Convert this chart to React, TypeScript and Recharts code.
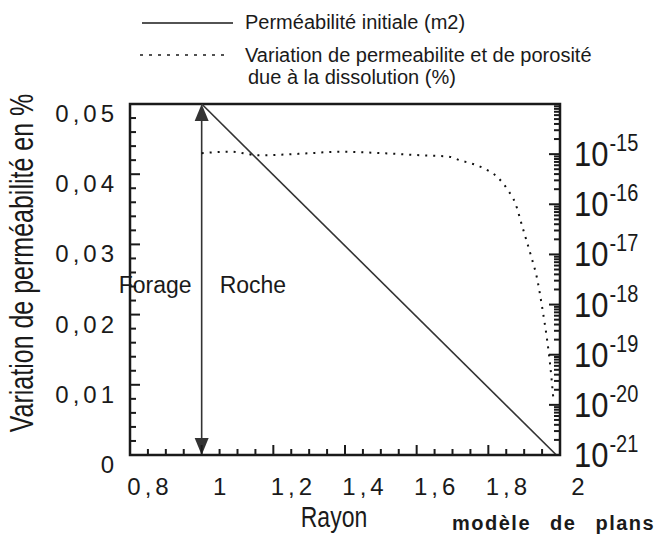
import React from 'react';
import { LineChart, Line, XAxis, YAxis, ReferenceLine } from 'recharts';

// dotted curve: variation de perméabilité et porosité (%)  -> left axis
const rayonVariation = [1.0, 1.08, 1.16, 1.27, 1.39, 1.5, 1.61, 1.69, 1.72, 1.785, 1.825, 1.855, 1.875, 1.895, 1.92, 1.935, 1.95, 1.964, 1.972, 1.981];
const variationPct = [0.043, 0.0432, 0.0427, 0.0429, 0.0432, 0.043, 0.0427, 0.0425, 0.042, 0.0409, 0.0396, 0.0377, 0.0359, 0.0325, 0.0282, 0.0254, 0.0211, 0.0164, 0.0131, 0.0083];

// solid line: perméabilité initiale (m2) -> right log axis
const rayonInitiale = [1.0, 1.99];
const permInitiale = [1e-14, 1e-21];

// axes
const xMajor = [0.8, 1, 1.2, 1.4, 1.6, 1.8, 2];
const xLabels = ['0,8', '1', '1,2', '1,4', '1,6', '1,8', '2'];
const yMajor = [0, 0.01, 0.02, 0.03, 0.04, 0.05];
const yLabels = ['0', '0,01', '0,02', '0,03', '0,04', '0,05'];
const logExponents = [-21, -20, -19, -18, -17, -16, -15];

const variationData = rayonVariation.map((r, i) => ({ r, v: variationPct[i] }));
const initialeData = rayonInitiale.map((r, i) => ({ r, k: permInitiale[i] }));

// minor ticks
const xTicks: number[] = [];
for (let i = 0; i <= 24; i++) xTicks.push(Math.round((0.8 + i * 0.05) * 1000) / 1000);
const yTicks: number[] = [];
for (let i = 0; i <= 25; i++) yTicks.push(Math.round(i * 0.002 * 10000) / 10000);
const logTicks: number[] = [];
logExponents.forEach((e) => {
  for (let k = 1; k <= 9; k++) logTicks.push(k * Math.pow(10, e));
});
logTicks.push(1e-14);

const W = 666;
const H = 537;
const margin = { top: 100, right: 6, bottom: 22, left: 30 };
const axisW = 100;
const bottomH = 60;
const topH = 4;
const plot = {
  x: margin.left + axisW,
  y: margin.top + topH,
  w: W - margin.left - margin.right - 2 * axisW,
  h: H - margin.top - margin.bottom - topH - bottomH,
};

const font = "'Liberation Sans', Arial, Helvetica, sans-serif";
const ink = '#1a1a1a';

const near = (a: number, b: number) => Math.abs(a - b) < 1e-6;

const BottomTick = (props: any) => {
  const { x, payload } = props;
  const y = plot.y + plot.h;
  const idx = xMajor.findIndex((m) => near(m, payload.value));
  const len = idx >= 0 ? 10 : 6;
  return (
    <g>
      <path d={`M${x},${y}V${y - len}`} stroke={ink} strokeWidth={2} />
      {idx >= 0 && (
        <text x={x + 20} y={y + 40} textAnchor="middle" fontFamily={font} fontSize={24} letterSpacing={4} fill={ink}>
          {xLabels[idx]}
        </text>
      )}
    </g>
  );
};

const TopTick = (props: any) => {
  const { x, payload } = props;
  const y = plot.y;
  const major = xMajor.some((m) => near(m, payload.value));
  return <path d={`M${x},${y}V${y + (major ? 10 : 6)}`} stroke={ink} strokeWidth={2} />;
};

const LeftTick = (props: any) => {
  const { y, payload } = props;
  const x = plot.x;
  const idx = yMajor.findIndex((m) => near(m, payload.value));
  const len = idx >= 0 ? 10 : 6;
  return (
    <g>
      <path d={`M${x},${y}H${x + len}`} stroke={ink} strokeWidth={2} />
      {idx >= 0 && (
        <text x={x - 12} y={y + 18} textAnchor="end" fontFamily={font} fontSize={24} letterSpacing={4} fill={ink}>
          {yLabels[idx]}
        </text>
      )}
    </g>
  );
};

const RightTick = (props: any) => {
  const { y, payload } = props;
  const x = plot.x + plot.w;
  const lg = Math.log10(payload.value);
  const exp = Math.round(lg);
  const major = near(lg, exp);
  const showLabel = major && logExponents.includes(exp);
  return (
    <g>
      <path d={`M${x},${y}H${x - (major ? 11 : 6)}`} stroke={ink} strokeWidth={2} />
      {showLabel && (
        <g transform={`translate(${x + 14}, ${y + 12}) scale(1, 1.15)`}>
          <text x={0} y={0} fontFamily={font} fontSize={31} fill={ink}>
            10
            <tspan fontSize={20} dy={-13} dx={1}>{`-${Math.abs(exp)}`}</tspan>
          </text>
        </g>
      )}
    </g>
  );
};

const DoubleArrow = (props: any) => {
  const { x1, y1, x2, y2 } = props;
  const x = x1;
  const top = Math.min(y1, y2);
  const bottom = Math.max(y1, y2);
  const mid = (top + bottom) / 2;
  return (
    <g>
      <line x1={x} y1={top + 10} x2={x2} y2={bottom - 10} stroke="#333" strokeWidth={1.6} />
      <polygon points={`${x},${top} ${x - 7},${top + 17} ${x + 7},${top + 17}`} fill="#333" />
      <polygon points={`${x},${bottom} ${x - 7},${bottom - 17} ${x + 7},${bottom - 17}`} fill="#333" />
      <text x={x - 10} y={mid + 13} textAnchor="end" fontFamily={font} fontSize={23} fill={ink}>Forage</text>
      <text x={x + 18} y={mid + 13} fontFamily={font} fontSize={23} fill={ink}>Roche</text>
    </g>
  );
};

export default function App() {
  return (
    <div style={{ position: 'absolute', left: 0, top: 0, width: W, height: H, background: '#fff' }}>
      <LineChart width={W} height={H} margin={margin}>
        <XAxis
          dataKey="r"
          type="number"
          domain={[0.8, 2]}
          ticks={xTicks}
          interval={0}
          allowDataOverflow
          height={bottomH}
          tickSize={0}
          tickMargin={0}
          tickLine={false}
          axisLine={false}
          tick={<BottomTick />}
        />
        <XAxis
          xAxisId="top"
          orientation="top"
          type="number"
          domain={[0.8, 2]}
          ticks={xTicks}
          interval={0}
          height={topH}
          tickSize={0}
          tickMargin={0}
          tickLine={false}
          axisLine={false}
          tick={<TopTick />}
        />
        <YAxis
          yAxisId="left"
          type="number"
          domain={[0, 0.05]}
          ticks={yTicks}
          interval={0}
          allowDataOverflow
          width={axisW}
          tickSize={0}
          tickMargin={0}
          tickLine={false}
          axisLine={false}
          tick={<LeftTick />}
        />
        <YAxis
          yAxisId="right"
          orientation="right"
          type="number"
          scale="log"
          domain={[1e-21, 1e-14]}
          ticks={logTicks}
          interval={0}
          allowDataOverflow
          width={axisW}
          tickSize={0}
          tickMargin={0}
          tickLine={false}
          axisLine={false}
          tick={<RightTick />}
        />
        <ReferenceLine
          yAxisId="left"
          segment={[{ x: 1, y: 0.05 }, { x: 1, y: 0 }]}
          shape={<DoubleArrow />}
        />
        <Line
          yAxisId="right"
          data={initialeData}
          dataKey="k"
          type="linear"
          stroke="#333"
          strokeWidth={1.6}
          dot={false}
          isAnimationActive={false}
        />
        <Line
          yAxisId="left"
          data={variationData}
          dataKey="v"
          type="monotone"
          stroke="#111"
          strokeWidth={2}
          strokeDasharray="2 6"
          dot={false}
          isAnimationActive={false}
        />
        {/* legend */}
        <g>
          <line x1={142} y1={23} x2={233} y2={23} stroke={ink} strokeWidth={1.3} />
          <text x={245} y={29} fontFamily={font} fontSize={20} fill={ink}>Perméabilité initiale (m2)</text>
          <line x1={140} y1={55} x2={227} y2={55} stroke={ink} strokeWidth={1.6} strokeDasharray="3 6" />
          <text x={245} y={62} fontFamily={font} fontSize={20} fill={ink}>Variation de permeabilite et de porosité</text>
          <text x={248} y={84} fontFamily={font} fontSize={20} fill={ink}>due à la dissolution (%)</text>
        </g>
        {/* axis titles */}
        <g transform="translate(33, 263) scale(1.35, 1) rotate(-90)">
          <text x={0} y={0} textAnchor="middle" fontFamily={font} fontSize={25} fill={ink}>
            Variation de perméabilité en %
          </text>
        </g>
        <g transform="translate(334, 527) scale(1, 1.3)">
          <text x={0} y={0} textAnchor="middle" fontFamily={font} fontSize={23} fill={ink}>Rayon</text>
        </g>
        <text x={452} y={530} fontFamily={font} fontSize={20} fontWeight="bold" letterSpacing={1.5} wordSpacing={12} fill={ink}>
          modèle de plans
        </text>
        {/* plot frame, drawn last */}
        <path
          d={`M${plot.x},${plot.y}H${plot.x + plot.w}V${plot.y + plot.h}H${plot.x}Z`}
          fill="none"
          stroke={ink}
          strokeWidth={2.5}
        />
      </LineChart>
    </div>
  );
}
